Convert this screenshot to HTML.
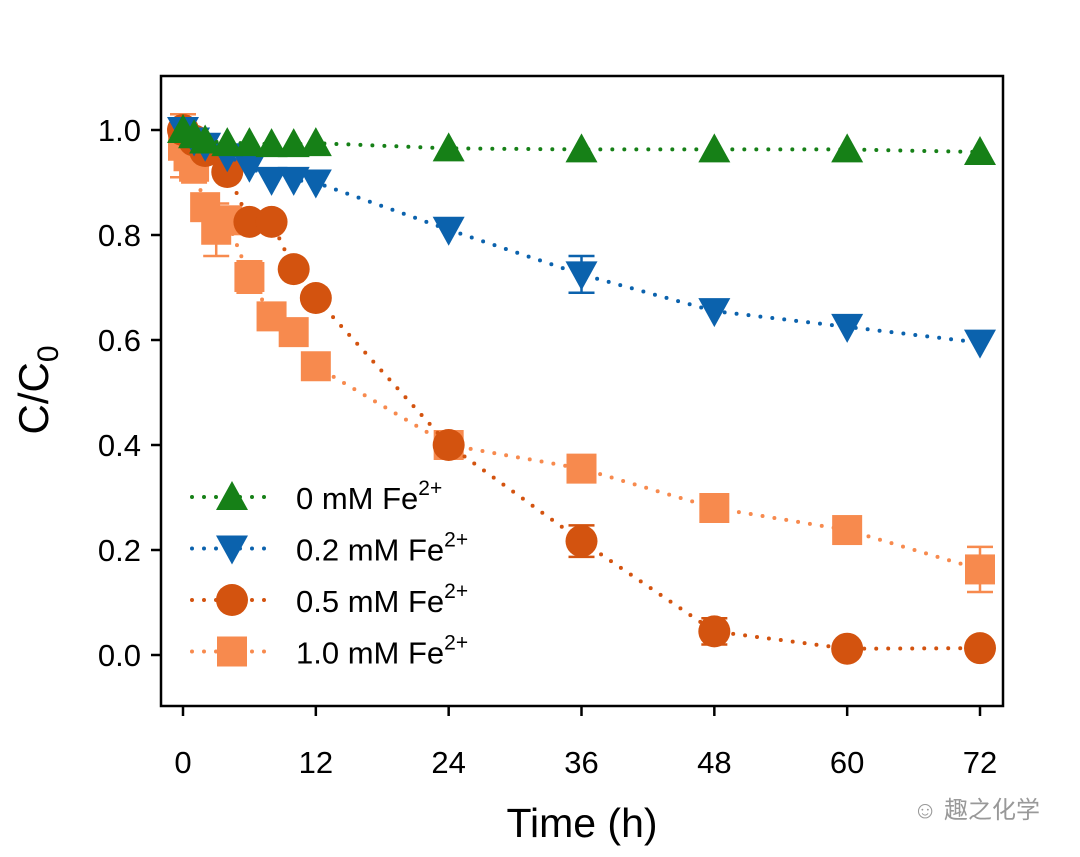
<!DOCTYPE html>
<html><head><meta charset="utf-8"><style>
body{margin:0;background:#fff;}
svg{display:block;font-family:"Liberation Sans",Arial,sans-serif;}
</style></head><body>
<svg id="chart" width="1080" height="857">
<rect x="161" y="76" width="842" height="630" fill="none" stroke="#000" stroke-width="2.5"/>
<g id="axes"></g><g id="series"></g><g id="legend"></g>
<text x="48" y="390" font-size="42" text-anchor="middle" transform="rotate(-90 48 390)">C/C<tspan font-size="30" dy="10">0</tspan></text>
<text x="582" y="837" font-size="41" text-anchor="middle">Time (h)</text>
<text x="1040" y="818" font-size="24" fill="#999" text-anchor="end" font-family="'Liberation Sans','Noto Sans CJK SC',sans-serif">☺ 趣之化学</text>
</svg>
<script>
const xTicks=[0,12,24,36,48,60,72];
const yTicks=[0.0,0.2,0.4,0.6,0.8,1.0];
const yTickLabels=["0.0","0.2","0.4","0.6","0.8","1.0"];
const seriesNames=["0 mM Fe","0.2 mM Fe","0.5 mM Fe","1.0 mM Fe"];
const tGreen=[0,1,2,4,6,8,10,12,24,36,48,60,72];
const vGreen=[1.0,0.99,0.98,0.975,0.975,0.973,0.973,0.975,0.965,0.963,0.963,0.963,0.958];
const tBlue=[0,1,2,4,6,8,10,12,24,36,48,60,72];
const vBlue=[1.0,0.98,0.97,0.95,0.93,0.905,0.905,0.90,0.81,0.725,0.655,0.625,0.595];
const eBlue=[0,0,0,0,0,0,0,0,0,0.035,0,0,0];
const tOrange=[0,1,2,4,6,8,10,12,24,36,48,60,72];
const vOrange=[1.0,0.98,0.96,0.92,0.825,0.825,0.735,0.68,0.40,0.217,0.045,0.012,0.013];
const eOrange=[0,0,0,0,0,0,0,0,0,0.03,0.025,0,0];
const tSq=[0,0.5,1,2,3,4,6,8,10,12,24,36,48,60,72];
const vSq=[0.97,0.95,0.93,0.853,0.81,0.828,0.72,0.645,0.615,0.55,0.40,0.355,0.28,0.238,0.163];
const eSq=[0.06,0.04,0.03,0.02,0.05,0.01,0.03,0.01,0,0,0.02,0.01,0.02,0.015,0.043];
const X=t=>183+t*(980-183)/72, Y=v=>655-v*525;
const NS="http://www.w3.org/2000/svg";
function mk(tag,attrs,parent){const e=document.createElementNS(NS,tag);for(const k in attrs)e.setAttribute(k,attrs[k]);parent.appendChild(e);return e;}
const ax=document.getElementById('axes');
xTicks.forEach(t=>{
 const l=mk('line',{x1:X(t),x2:X(t),y1:706,y2:716,stroke:'#000','stroke-width':2.5},ax);
 
 
 const tx=mk('text',{x:X(t),y:773,'font-size':31,'text-anchor':'middle'},ax);tx.textContent=t;
 
 
});
yTicks.forEach((v,i)=>{
 const l=mk('line',{x1:151,x2:161,y1:Y(v),y2:Y(v),stroke:'#000','stroke-width':2.5},ax);
 
 
 const tx=mk('text',{x:141,y:Y(v)+11,'font-size':31,'text-anchor':'end'},ax);tx.textContent=yTickLabels[i];
 
 
});
function marker(g,shape,cx,cy,col){
 let e;
 if(shape==='tri') e=mk('polygon',{points:`${cx},${cy-16} ${cx-16},${cy+13} ${cx+16},${cy+13}`,fill:col},g);
 else if(shape==='dtri') e=mk('polygon',{points:`${cx},${cy+16} ${cx-16},${cy-13} ${cx+16},${cy-13}`,fill:col},g);
 else if(shape==='circ') e=mk('circle',{cx:cx,cy:cy,r:16,fill:col},g);
 else e=mk('rect',{x:cx-15,y:cy-15,width:30,height:30,fill:col},g);
 return e;
}
const sg=document.getElementById('series');
const defs=[[tSq,vSq,eSq,'#f78a4e','sq','series-1mm'],[tOrange,vOrange,eOrange,'#d3530f','circ','series-0-5mm'],[tBlue,vBlue,eBlue,'#0b62ad','dtri','series-0-2mm'],[tGreen,vGreen,null,'#168017','tri','series-0mm']];
defs.forEach(([ts,vs,es,col,shape,name])=>{
 const g=mk('g',{},sg);
 
 
 mk('polyline',{points:ts.map((t,i)=>X(t)+','+Y(vs[i])).join(' '),fill:'none',stroke:col,'stroke-width':4,'stroke-dasharray':'0 12','stroke-linecap':'round'},g);
 ts.forEach((t,i)=>{
  if(es&&es[i]>0){const x=X(t),y1=Y(vs[i]+es[i]),y2=Y(vs[i]-es[i]);
   mk('path',{d:`M${x},${y1}V${y2}M${x-13},${y1}H${x+13}M${x-13},${y2}H${x+13}`,stroke:col,'stroke-width':2.5,fill:'none'},g);}
  const m=marker(g,shape,X(t),Y(vs[i]),col);
  
  
 });
});
const lg=document.getElementById('legend');
const ldefs=[['#168017','tri'],['#0b62ad','dtri'],['#d3530f','circ'],['#f78a4e','sq']];
ldefs.forEach(([col,shape],i)=>{
 const y=497+i*51.5;
 const g=mk('g',{},lg);
 
 
 mk('line',{x1:192,x2:274,y1:y,y2:y,stroke:col,'stroke-width':4,'stroke-dasharray':'0 12','stroke-linecap':'round'},g);
 marker(g,shape,232,y,col);
 const tx=mk('text',{x:296,y:y+12,'font-size':31},g);
 tx.textContent=seriesNames[i];
 const sp=mk('tspan',{'font-size':21,dy:-14},tx);sp.textContent='2+';
});
</script>
</body></html>
